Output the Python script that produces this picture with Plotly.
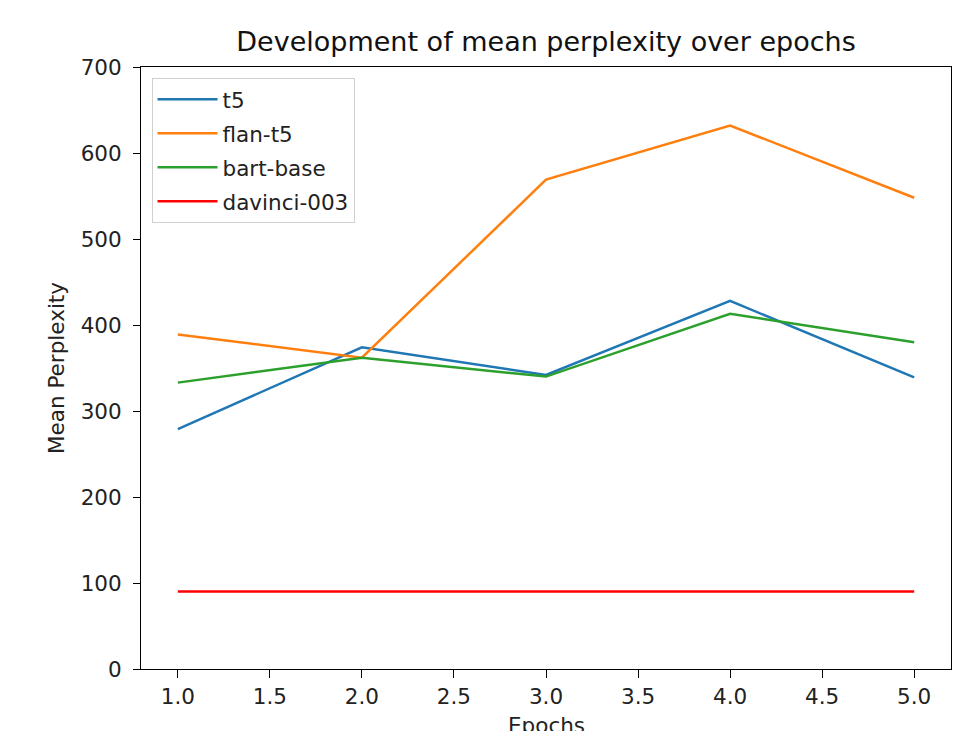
import plotly.graph_objects as go

epochs = [1, 2, 3, 4, 5]
t5 = [279, 374, 342, 428, 339]
flan_t5 = [389, 362, 569, 632, 548]
bart_base = [333, 362, 340, 413, 380]
davinci_003 = [90, 90, 90, 90, 90]

series = [
    ("t5", t5, "#1f77b4"),
    ("flan-t5", flan_t5, "#ff7f0e"),
    ("bart-base", bart_base, "#2ca02c"),
    ("davinci-003", davinci_003, "#ff0000"),
]

fig = go.Figure()
for name, vals, color in series:
    fig.add_trace(go.Scatter(x=epochs, y=vals, mode="lines", name=name,
                             legendgroup=name,
                             line=dict(color=color, width=2.5)))

font_family = "DejaVu Sans"
fs = 21.5
fig.update_layout(
    width=977, height=731,
    margin=dict(l=141, r=26, t=67, b=62),
    paper_bgcolor="white", plot_bgcolor="white",
    font=dict(family=font_family, size=fs, color="#222"),
    title=dict(text="Development of mean perplexity over epochs",
               x=0.5, xref="paper", xanchor="center", y=1 - 42 / 731, yanchor="middle",
               font=dict(size=27, color="#111")),
    legend=dict(x=0.013, y=0.982, xanchor="left", yanchor="top",
                bgcolor="white", bordercolor="#d0d0d0", borderwidth=1,
                traceorder="grouped", tracegroupgap=3, itemwidth=60,
                font=dict(size=fs, color="#222")),
    showlegend=True,
    annotations=[dict(text="Epochs", xref="paper", yref="paper", x=0.5, y=0,
                      xanchor="center", yanchor="top", yshift=-42, showarrow=False,
                      font=dict(size=fs, color="#222"))],
)
fig.update_xaxes(range=[0.8, 5.2], tickvals=[1, 1.5, 2, 2.5, 3, 3.5, 4, 4.5, 5],
                 ticktext=["1.0", "1.5", "2.0", "2.5", "3.0", "3.5", "4.0", "4.5", "5.0"],
                 showgrid=False, zeroline=False, showline=True, linecolor="black",
                 linewidth=1, mirror=True, ticks="outside", ticklen=8, tickcolor="black",
                 ticklabelstandoff=0, automargin=False,
                 tickfont=dict(size=fs))
fig.update_yaxes(range=[0, 700], tickvals=[0, 100, 200, 300, 400, 500, 600, 700],
                 showgrid=False, zeroline=False, showline=True, linecolor="black",
                 linewidth=1, mirror=True, ticks="outside", ticklen=7, tickcolor="black",
                 ticklabelstandoff=7, automargin=False,
                 tickfont=dict(size=fs),
                 title=dict(text="Mean Perplexity", font=dict(size=fs), standoff=10))

fig.write_html("out.html")
